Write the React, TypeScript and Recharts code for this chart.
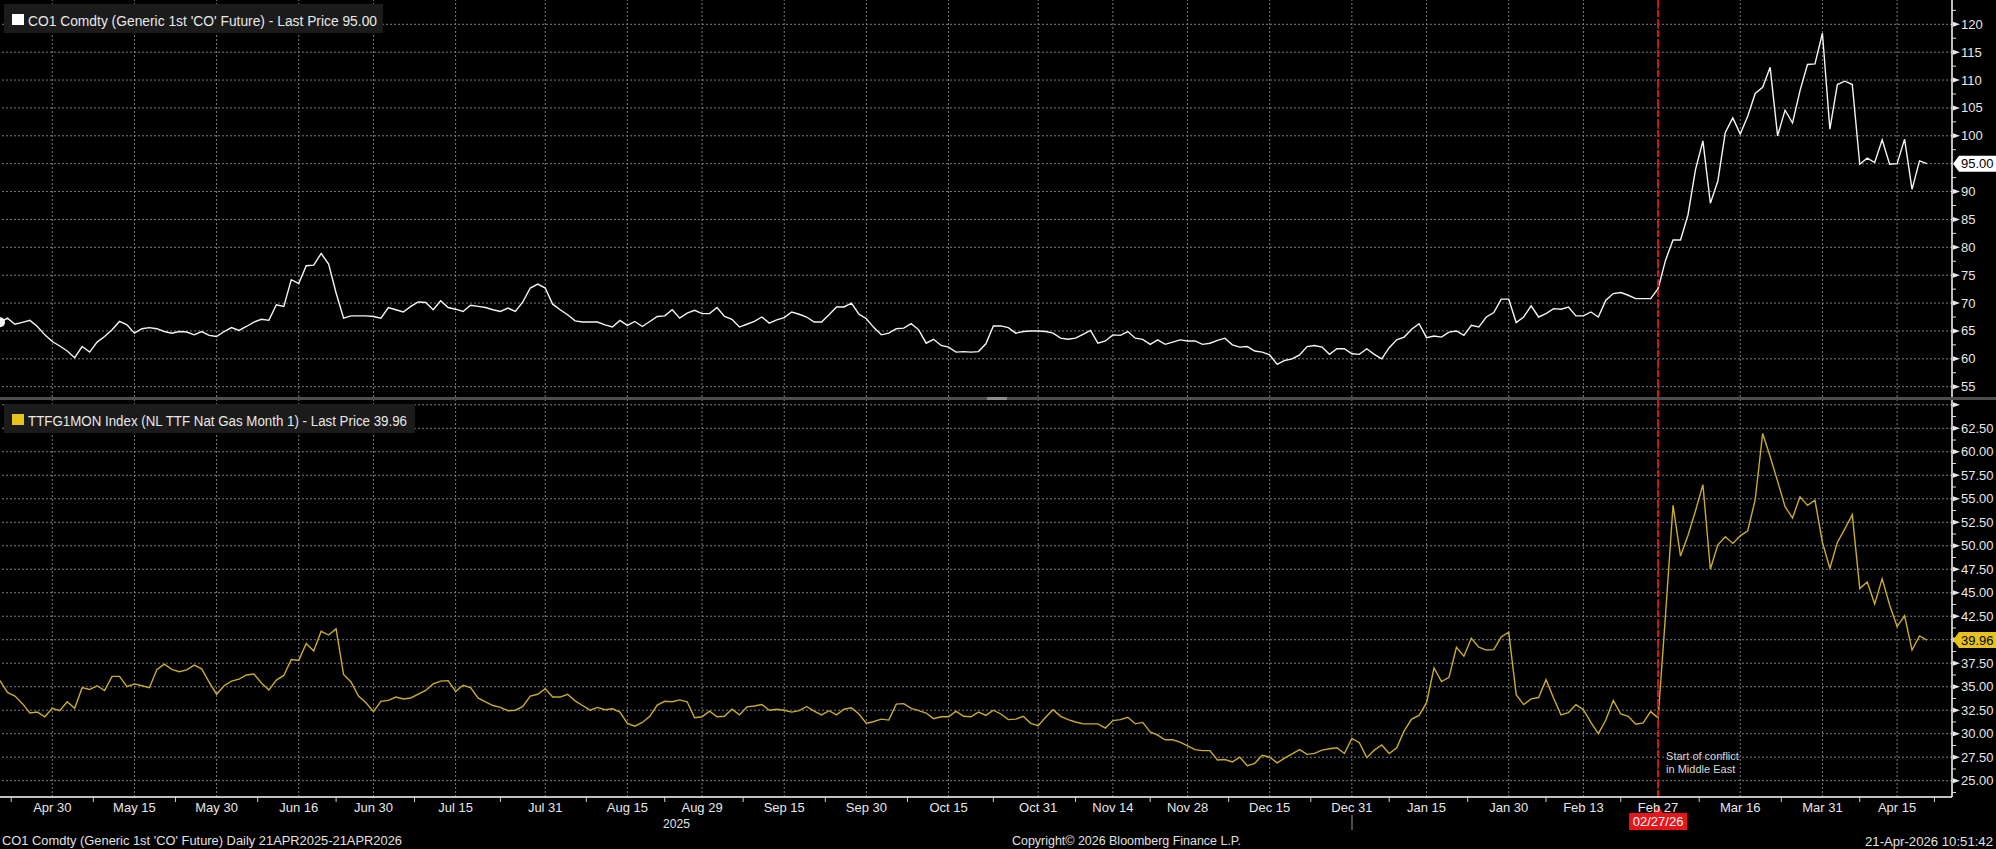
import React from 'react';
import { LineChart, Line, XAxis, YAxis, ReferenceLine } from 'recharts';

// Trading-day index 0 = 21 Apr 2025 ... 258 = 21 Apr 2026
const tickLabels = ['Apr 30','May 15','May 30','Jun 16','Jun 30','Jul 15','Jul 31','Aug 15','Aug 29','Sep 15','Sep 30','Oct 15','Oct 31','Nov 14','Nov 28','Dec 15','Dec 31','Jan 15','Jan 30','Feb 13','Feb 27','Mar 16','Mar 31','Apr 15'];
const tickIndex = [7,18,29,40,50,61,73,84,94,105,116,127,139,149,159,170,181,191,202,212,222,233,244,254];
const minorTickIndex = [1.5,12.5,23.5,34.5,45,55.5,67,78.5,89,99.5,110.5,121.5,133,144,154,164.5,175.5,186,196.5,207,217,227.5,238.5,249,259];

const brent = [
66.55,67.3,66.2,66.55,66.9,65.8,64.3,63.1,62.3,61.4,
60.2,62.2,61.2,63.0,64.0,65.2,66.7,66.1,64.6,65.4,
65.6,65.4,64.9,64.6,64.9,64.8,64.3,64.9,64.2,64.0,
64.9,65.6,65.1,65.8,66.6,67.1,66.9,69.7,69.4,74.2,
73.5,76.7,76.8,78.9,77.0,71.8,67.3,67.7,67.7,67.7,
67.6,67.3,69.2,68.8,68.4,69.4,70.2,70.1,68.8,70.4,
69.2,68.9,68.5,69.6,69.4,69.2,68.8,68.5,69.1,68.5,
70.2,72.7,73.4,72.7,69.8,68.8,67.9,66.8,66.6,66.6,
66.6,66.1,65.7,66.9,66.0,66.7,65.8,66.7,67.6,67.7,
68.8,67.3,68.2,68.7,68.1,68.1,69.2,67.6,67.1,65.7,
66.2,66.7,67.5,66.4,67.0,67.4,68.4,68.0,67.5,66.6,
66.6,67.9,69.3,69.3,70.0,68.0,67.2,65.6,64.3,64.6,
65.4,65.5,66.3,65.2,62.8,63.5,62.4,62.1,61.2,61.3,
61.2,61.3,62.7,65.9,65.9,65.6,64.6,64.9,65.0,65.0,
64.9,64.6,63.7,63.5,63.7,64.4,65.1,62.8,63.2,64.3,
64.2,64.9,63.7,63.5,62.6,63.4,62.6,63.0,63.4,63.2,
63.2,62.6,62.8,63.3,63.7,62.5,62.1,62.2,61.4,61.2,
60.7,59.0,59.7,60.0,60.7,62.2,62.4,62.1,60.8,61.8,
61.8,60.9,60.8,61.8,60.8,60.0,62.0,63.4,63.9,65.3,
66.3,63.8,64.1,63.9,64.8,65.0,64.2,66.0,65.7,67.5,
68.3,70.7,70.7,66.5,67.5,69.5,67.5,68.1,69.0,68.9,
69.3,67.7,67.7,68.4,67.5,70.5,71.7,71.9,71.4,70.8,
70.8,70.8,72.6,77.7,81.3,81.3,85.8,93.9,99.1,87.9,
91.9,100.6,103.2,100.3,103.5,107.6,108.7,112.3,100.0,104.6,
102.3,108.1,112.8,112.9,118.4,101.2,109.2,109.8,109.2,94.9,
96.0,95.2,99.3,94.9,95.0,99.4,90.4,95.5,95.0
];

const ttf = [
35.65,34.4,34.0,33.2,32.2,32.3,31.8,32.7,32.45,33.4,
32.7,34.9,34.7,35.1,34.6,36.1,36.1,35.0,35.3,35.1,
34.9,36.8,37.4,36.85,36.6,36.8,37.3,36.9,35.5,34.2,
35.1,35.6,35.8,36.25,36.35,35.4,34.65,35.7,36.2,37.9,
37.8,39.6,38.8,40.9,40.5,41.15,36.3,35.5,34.0,33.3,
32.35,33.45,33.55,33.9,33.7,33.8,34.2,34.6,35.3,35.6,
35.65,34.5,35.15,34.9,33.8,33.4,33.0,32.8,32.45,32.5,
32.9,34.0,34.2,34.8,33.9,33.9,34.2,33.5,33.0,32.5,
32.8,32.55,32.65,32.3,31.1,30.8,31.2,31.85,33.05,33.45,
33.4,33.6,33.4,31.7,31.8,32.4,31.8,31.85,32.6,32.0,
32.85,32.95,33.1,32.5,32.6,32.5,32.3,32.45,32.9,32.4,
32.0,32.45,32.0,32.6,32.75,32.1,31.1,31.3,31.55,31.45,
33.15,33.2,32.7,32.45,32.2,31.6,31.8,31.8,32.4,31.85,
31.8,32.3,31.95,32.5,32.1,31.5,31.55,31.85,31.1,30.85,
31.75,32.55,31.85,31.5,31.25,31.05,31.05,31.05,30.6,31.4,
31.5,31.75,31.05,31.2,30.2,29.85,29.35,29.35,29.1,28.7,
28.3,28.2,28.2,27.2,27.25,27.0,27.5,26.6,26.85,27.7,
27.5,26.9,27.4,27.85,28.3,27.8,27.9,28.25,28.4,28.5,
27.9,29.5,29.05,27.45,28.25,28.8,27.9,28.5,30.3,31.55,
31.95,33.3,37.0,35.55,36.0,39.2,38.25,40.15,39.2,38.9,
38.95,40.3,40.8,34.15,33.1,33.7,33.85,35.75,33.8,32.0,
32.25,33.1,32.55,31.2,30.0,31.45,33.55,32.1,31.85,31.0,
31.15,32.35,31.7,42.7,54.3,48.9,51.1,53.7,56.5,47.5,
50.1,50.95,50.25,51.05,51.6,54.9,61.95,59.5,56.85,54.15,
52.95,55.2,54.3,54.85,50.35,47.6,50.35,51.8,53.3,45.45,
46.15,43.8,46.5,43.7,41.4,42.55,38.9,40.4,39.96
];

const brentMajorTicks = [55,60,65,70,75,80,85,90,95,100,105,110,115,120];
const brentMinorTicks = [57.5,62.5,67.5,72.5,77.5,82.5,87.5,92.5,97.5,102.5,107.5,112.5,117.5,122.5];
const ttfMajorTicks = [25,27.5,30,32.5,35,37.5,40,42.5,45,47.5,50,52.5,55,57.5,60,62.5,65];
const ttfMinorTicks = [23.75,26.25,28.75,31.25,33.75,36.25,38.75,41.25,43.75,46.25,48.75,51.25,53.75,56.25,58.75,61.25,63.75];

const eventIndex = 222;
const eventLabel = '02/27/26';
const eventText = ['Start of conflict', 'in Middle East'];

const brentName = "CO1 Comdty (Generic 1st 'CO' Future)";
const ttfName = 'TTFG1MON Index (NL TTF Nat Gas Month 1)';

const data = brent.map((b, i) => ({ i, brent: b, ttf: ttf[i] }));
const brentLast = brent[brent.length - 1];
const ttfLast = ttf[ttf.length - 1];

const FONT = "'Liberation Sans', Arial, sans-serif";
const AX = 1952;
const GRID = '#7c7c7c';
const XDOMAIN: [number, number] = [0, 261.35];

function makeYTick(majors: number[], minors: number[], last: number, tagFill: string, fmt: (v: number) => string, labelless: number[]) {
  return (props: any) => {
    const { y, payload } = props;
    const v = payload.value;
    if (v === last) {
      return (
        <g>
          <polygon points={`${AX + 1},${y} ${AX + 7},${y - 8} ${AX + 44},${y - 8} ${AX + 44},${y + 8} ${AX + 7},${y + 8}`} fill={tagFill} />
          <text x={AX + 9} y={y + 4.5} fill="#000" fontSize={13} fontFamily={FONT}>{last.toFixed(2)}</text>
        </g>
      );
    }
    if (minors.includes(v)) {
      return <line x1={AX} x2={AX + 4} y1={y} y2={y} stroke="#e0e0e0" strokeWidth={1} />;
    }
    return (
      <g>
        <polygon points={`${AX + 1},${y - 2.5} ${AX + 8},${y} ${AX + 1},${y + 2.5}`} fill="#e8e8e8" />
        {labelless.includes(v) ? null : (
          <text x={AX + 9} y={y + 4.5} fill="#e6e6e6" fontSize={13} fontFamily={FONT}>{fmt(v)}</text>
        )}
      </g>
    );
  };
}

const XTick = (props: any) => {
  const { x, payload } = props;
  const v = payload.value;
  const k = tickIndex.indexOf(v);
  if (k < 0) {
    return <line x1={x} x2={x} y1={397} y2={402} stroke="#d0d0d0" strokeWidth={1} />;
  }
  return (
    <text x={x} y={411.5} textAnchor="middle" fill="#e6e6e6" fontSize={13} fontFamily={FONT}>
      {tickLabels[k]}
    </text>
  );
};

const EventLabel = (props: any) => {
  const vb = props.viewBox || {};
  const x = vb.x ?? 0;
  return (
    <g>
      <text x={x + 8} y={360} fill="#d8d8d8" fontSize={11} fontFamily={FONT}>{eventText[0]}</text>
      <text x={x + 8} y={372.7} fill="#d8d8d8" fontSize={11} fontFamily={FONT}>{eventText[1]}</text>
      <polygon points={`${x},${406} ${x - 5},${413} ${x + 5},${413}`} fill="#e8141b" />
      <rect x={x - 29} y={413} width={58} height={17} fill="#e8141b" />
      <text x={x} y={426} textAnchor="middle" fill="#ffffff" fontSize={13} fontFamily={FONT}>{eventLabel}</text>
    </g>
  );
};

const brentTicks = [...brentMinorTicks, ...brentMajorTicks.filter((m) => m !== brentLast), brentLast];
const ttfTicks = [...ttfMinorTicks, ...ttfMajorTicks, ttfLast];

export default function App() {
  const topTick = makeYTick(brentMajorTicks, brentMinorTicks, brentLast, '#ffffff', (v) => String(v), []);
  const botTick = makeYTick(ttfMajorTicks, ttfMinorTicks, ttfLast, '#e5c21c', (v) => v.toFixed(2), [65, 40]);
  const gridV = tickIndex.map((t) => (
    <ReferenceLine key={'v' + t} x={t} stroke={GRID} strokeDasharray="2 2" strokeWidth={1} />
  ));
  return (
    <div style={{ position: 'absolute', left: 0, top: 0, width: 1996, height: 849, background: '#000', overflow: 'hidden' }}>
      <div style={{ position: 'absolute', left: 0, top: 0 }}>
        <LineChart width={1996} height={397} data={data} margin={{ top: 0, right: 0, bottom: 0, left: 0 }}>
          <XAxis dataKey="i" type="number" domain={XDOMAIN} allowDataOverflow hide ticks={tickIndex} interval={0} />
          <YAxis
            orientation="right"
            width={44}
            type="number"
            domain={[53.153, 124.358]}
            allowDataOverflow
            ticks={brentTicks}
            interval={0}
            tickLine={false}
            axisLine={{ stroke: '#ffffff', strokeWidth: 1.5 }}
            tick={topTick}
          />
          {brentMajorTicks.map((v) => (
            <ReferenceLine key={'h' + v} y={v} stroke={GRID} strokeDasharray="2 2" strokeWidth={1} />
          ))}
          {gridV}
          <Line type="linear" dataKey="brent" stroke="#f4f4f4" strokeWidth={1.4} dot={false} isAnimationActive={false} />
          <ReferenceLine x={eventIndex} stroke="#d5151c" strokeWidth={2} strokeDasharray="7 3" />
        </LineChart>
      </div>
      <div style={{ position: 'absolute', left: 0, top: 400 }}>
        <LineChart width={1996} height={449} data={data} margin={{ top: 0, right: 0, bottom: 0, left: 0 }}>
          <XAxis
            dataKey="i"
            type="number"
            domain={XDOMAIN}
            allowDataOverflow
            ticks={[...minorTickIndex, ...tickIndex]}
            interval={0}
            height={52}
            tickLine={false}
            axisLine={{ stroke: '#ffffff', strokeWidth: 1.5 }}
            tick={XTick}
          />
          <YAxis
            orientation="right"
            width={44}
            type="number"
            domain={[23.265, 65.51]}
            allowDataOverflow
            ticks={ttfTicks}
            interval={0}
            tickLine={false}
            axisLine={{ stroke: '#ffffff', strokeWidth: 1.5 }}
            tick={botTick}
          />
          {ttfMajorTicks.map((v) => (
            <ReferenceLine key={'h' + v} y={v} stroke={GRID} strokeDasharray="2 2" strokeWidth={1} />
          ))}
          {gridV}
          <Line type="linear" dataKey="ttf" stroke="#c9ab2f" strokeWidth={1.4} dot={false} isAnimationActive={false} />
          <ReferenceLine x={eventIndex} stroke="#d5151c" strokeWidth={2} strokeDasharray="7 3" label={{ content: EventLabel }} />
        </LineChart>
      </div>
      <svg width={1996} height={849} style={{ position: 'absolute', left: 0, top: 0, pointerEvents: 'none' }}>
        <rect x={0} y={397} width={1996} height={3} fill="#4d4d4d" />
        <rect x={987} y={397} width={20} height={3} fill="#8c8c8c" />
        <rect x={4} y={4} width={379} height={29} fill="#1b1b1b" />
        <rect x={12} y={14} width={12} height={11} fill="#ffffff" />
        <text x={28} y={26} fontSize={14} fontFamily={FONT} fill="#e8e8e8" textLength={349} lengthAdjust="spacingAndGlyphs">
          {`${brentName} - Last Price ${brentLast.toFixed(2)}`}
        </text>
        <rect x={4} y={404} width={411} height={29} fill="#1b1b1b" />
        <rect x={12} y={414} width={12} height={11} fill="#e5c21c" />
        <text x={28} y={426} fontSize={14} fontFamily={FONT} fill="#e8e8e8" textLength={379} lengthAdjust="spacingAndGlyphs">
          {`${ttfName} - Last Price ${ttfLast.toFixed(2)}`}
        </text>
        <line x1={1352} x2={1352} y1={815} y2={830} stroke="#9a9a9a" strokeWidth={1} />
        <text x={663} y={828} fontSize={12.5} fontFamily={FONT} fill="#e0e0e0" textLength={27} lengthAdjust="spacingAndGlyphs">2025</text>
        <text x={2} y={845} fontSize={12.5} fontFamily={FONT} fill="#e0e0e0" textLength={400} lengthAdjust="spacingAndGlyphs">
          {`${brentName} Daily 21APR2025-21APR2026`}
        </text>
        <text x={1012} y={845} fontSize={12.5} fontFamily={FONT} fill="#e0e0e0" textLength={229} lengthAdjust="spacingAndGlyphs">
          Copyright© 2026 Bloomberg Finance L.P.
        </text>
        <text x={1865} y={846} fontSize={12.5} fontFamily={FONT} fill="#e0e0e0" textLength={128} lengthAdjust="spacingAndGlyphs">
          21-Apr-2026 10:51:42
        </text>
      </svg>
    </div>
  );
}
